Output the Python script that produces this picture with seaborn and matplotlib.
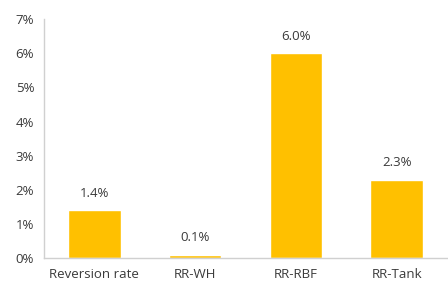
import numpy as np
import pandas as pd
import matplotlib
matplotlib.use("Agg")
import matplotlib.pyplot as plt
import seaborn as sns
from matplotlib.ticker import FixedLocator

# data
categories = ["Reversion rate", "RR-WH", "RR-RBF", "RR-Tank"]
values = [1.4, 0.1, 6.0, 2.3]
bar_labels = ["1.4%", "0.1%", "6.0%", "2.3%"]
y_ticks = [0, 1, 2, 3, 4, 5, 6, 7]

df = pd.DataFrame({"category": categories, "value": values})

sns.set_style("white")
plt.rcParams["font.family"] = ["Open Sans", "DejaVu Sans"]

fig = plt.figure(figsize=(4.48, 2.93), dpi=100)
ax = fig.add_axes([0.098, 0.119, 0.9, 0.816])

sns.barplot(data=df, x="category", y="value", color="#FFC000", width=0.52,
            saturation=1, ax=ax)

for i, (v, lab) in enumerate(zip(values, bar_labels)):
    ax.text(i, v + 0.3, lab, ha="center", va="bottom", fontsize=9.5, color="#3a3a3a")

ax.set_xlim(-0.5, 3.5)
ax.set_ylim(0, 7)
ax.set_yticks(y_ticks)
ax.set_yticklabels([f"{t}%" for t in y_ticks])
ax.xaxis.set_minor_locator(FixedLocator([-0.5, 0.5, 1.5, 2.5, 3.5]))
ax.tick_params(axis="x", which="major", length=0, labelsize=9.5, colors="#3a3a3a", pad=7)
ax.tick_params(axis="x", which="minor", length=4, color="#d0d0d0", width=1)
ax.tick_params(axis="y", length=4, color="#d0d0d0", labelsize=9.5, labelcolor="#3a3a3a", pad=3)
ax.set_xlabel("")
ax.set_ylabel("")

for s in ["top", "right"]:
    ax.spines[s].set_visible(False)
for s in ["left", "bottom"]:
    ax.spines[s].set_color("#d0d0d0")
    ax.spines[s].set_linewidth(1)

fig.savefig("out.png", dpi=100)
